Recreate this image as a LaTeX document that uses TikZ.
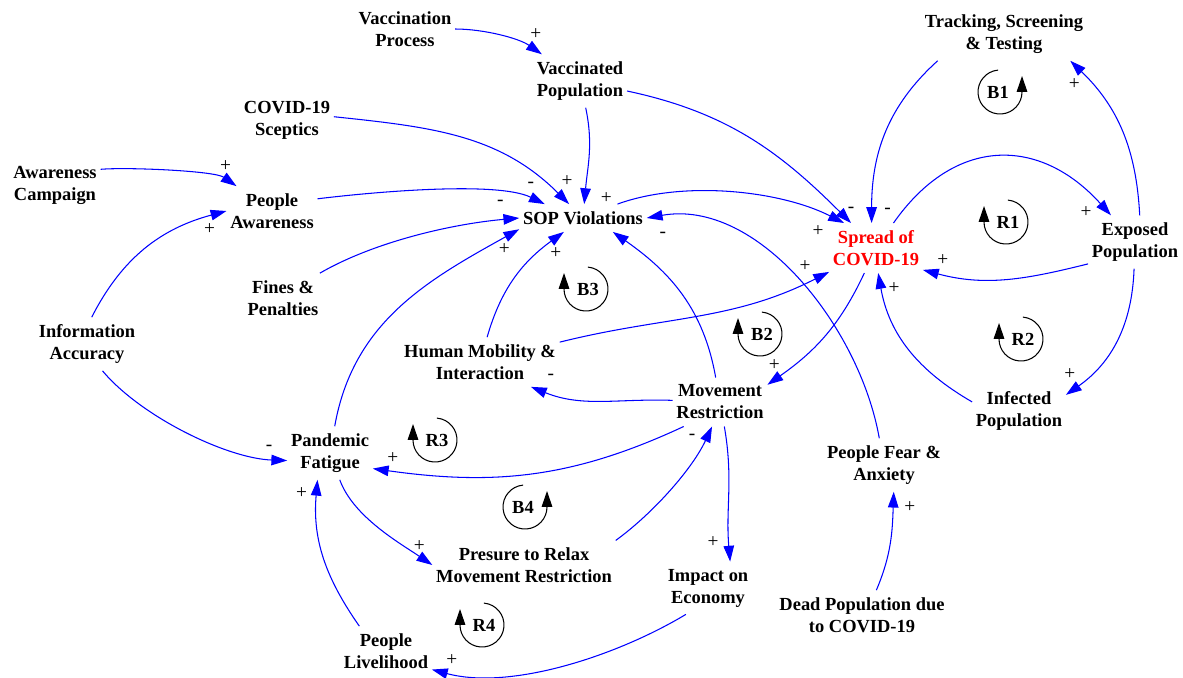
\documentclass[tikz,border=0pt]{standalone}
\usepackage{fontspec}
\setmainfont{Liberation Serif}
\usetikzlibrary{arrows.meta}

\begin{document}
\begin{tikzpicture}[x=0.02cm,y=0.02cm,
    var/.style={font=\bfseries\fontsize{10.5}{12.5}\selectfont,align=center,inner xsep=2pt,inner ysep=4pt},
    link/.style={blue,line width=0.6pt,-{Triangle[length=9pt,width=6pt]}},
    sign/.style={text=black,font=\fontsize{11}{12}\selectfont,inner sep=0pt,pos=1},
    loopmark/.style={black,line width=0.6pt,-{Triangle[length=9pt,width=6pt]}},
    looplab/.style={font=\bfseries\fontsize{10.5}{12}\selectfont,inner sep=0pt}]
      \useasboundingbox (0,0) rectangle (1183,-677);

      % variables
      \node[var] (vproc) at (405,-29) {Vaccination\\Process};
      \node[var] (vpop) at (580,-81) {Vaccinated\\Population};
      \node[var] (scep) at (287,-120) {COVID-19\\Sceptics};
      \node[var] (acamp) at (55,-185) {Awareness\\Campaign};
      \node[var] (paware) at (272,-211) {People\\Awareness};
      \node[var] (sop) at (583,-218) {SOP Violations};
      \node[var] (fines) at (283,-298) {Fines \&\\Penalties};
      \node[var] (info) at (87,-344) {Information\\Accuracy};
      \node[var] (mob) at (480,-362) {Human Mobility \&\\Interaction};
      \node[var] (move) at (720,-402) {Movement\\Restriction};
      \node[var,text=red] (spread) at (876,-248) {Spread of\\COVID-19};
      \node[var] (track) at (1004,-34) {Tracking, Screening\\\& Testing};
      \node[var] (expo) at (1135,-242) {Exposed\\Population};
      \node[var] (infect) at (1019,-411) {Infected\\Population};
      \node[var] (fear) at (884,-465) {People Fear \&\\Anxiety};
      \node[var] (dead) at (862,-615) {Dead Population due\\to COVID-19};
      \node[var] (fatig) at (330,-453) {Pandemic\\Fatigue};
      \node[var] (press) at (524,-565) {Presure to Relax\\Movement Restriction};
      \node[var] (econ) at (708,-588) {Impact on\\Economy};
      \node[var] (liveli) at (386,-651) {People\\Livelihood};

      % links into SOP Violations
      \draw[link] (vproc) to[out=0,in=145,looseness=.8] node[sign,shift={(-6,20)}] (s1) {+} (vpop);
      \draw[link] (vpop) to[out=-78,in=85] node[sign,shift={(22,6)}] (s2) {+} (sop);
      \draw[link] (scep.4) to[out=-6,in=135] node[sign,shift={(-2,23)}] (s3) {+} (sop.135);
      \draw[link] (paware.15) to[out=7,in=154,looseness=.6] node[sign,shift={(-14,19)}] (s4) {-} (sop.160);
      \draw[link] (fines.34) to[out=30,in=185,looseness=.8] node[sign,shift={(-19,15)}] (s5) {-} (sop.west);
      \draw[link] (fatig) to[out=80,in=209] node[sign,shift={(-15,-20)}] (s6) {+} (sop.190);
      \draw[link] (mob) to[out=74,in=216] node[sign,shift={(-8,-21)}] (s7) {+} (sop.216);
      \draw[link] (move) to[out=100,in=-35] (sop.-25);
      \draw[link] (fear) to[out=100,in=10,looseness=.9] node[sign,shift={(16,-17)}] (s8) {-} (sop.east);

      % awareness side
      \draw[link] (acamp.19) to[out=5,in=145,looseness=.5] node[sign,shift={(-11,20)}] (s9) {+} (paware.145);
      \draw[link] (info.80) to[out=63,in=195] node[sign,shift={(-17,-18)}] (s10) {+} (paware.180);
      \draw[link] (info.-60) to[out=-50,in=178,looseness=.75] node[sign,shift={(-18,13)}] (s11) {-} (fatig.190);

      % spread of COVID-19
      \draw[link] (sop.22) to[out=20,in=153,looseness=.8] node[sign,shift={(-26,-8)}] (s12) {+} (spread.142);
      \draw[link] (vpop) to[out=-12,in=135] node[sign,shift={(0,13)}] (s13) {-} (spread);
      \draw[link] (track.202) to[out=222,in=90] node[sign,shift={(16,12)}] (s14) {-} (spread.100);
      \draw[link] (spread) to[out=55,in=132,looseness=1.25] node[sign,shift={(-25,3)}] (s15) {+} (expo);
      \draw[link] (expo.205) to[out=194,in=-15] node[sign,shift={(20,10)}] (s16) {+} (spread.-25);
      \draw[link] (expo.80) to[out=93,in=-44] node[sign,shift={(4,-23)}] (s17) {+} (track.-22);
      \draw[link] (expo) to[out=-92,in=35] node[sign,shift={(4,21)}] (s18) {+} (infect.19);
      \draw[link] (infect.169) to[out=150,in=-80] node[sign,shift={(16,-15)}] (s19) {+} (spread.-85);
      \draw[link] (mob) to[out=14,in=-153] node[sign,shift={(-24,6)}] (s20) {+} (spread);
      \draw[link] (spread) to[out=-115,in=35] node[sign,shift={(7,20)}] (s21) {+} (move.20);

      % movement restriction
      \draw[link] (move) to[out=178,in=-22] node[sign,shift={(20,10)}] (s22) {-} (mob.-26);
      \draw[link] (move.214) to[out=205,in=-8] node[sign,shift={(20,11)}] (s23) {+} (fatig.-20);
      \draw[link] (move) to[out=-80,in=95] node[sign,shift={(-17,20)}] (s24) {+} (econ.50);
      \draw[link] (press.15) to[out=36,in=-115,looseness=.8] node[sign,shift={(-20,-10)}] (s25) {-} (move.-108);
      \draw[link] (fatig) to[out=-70,in=146,looseness=.8] node[sign,shift={(-13,19)}] (s26) {+} (press.180);
      \draw[link] (econ.230) to[out=211,in=-15,looseness=.8] node[sign,shift={(20,10)}] (s27) {+} (liveli.-22);
      \draw[link] (liveli.137) to[out=125,in=-95] node[sign,shift={(-16,-13)}] (s28) {+} (fatig.-115);
      \draw[link] (dead.60) to[out=67,in=-92] node[sign,shift={(16,-15)}] (s29) {+} (fear.-70);

      % loop markers
      \foreach \x/\y/\t in {1006/222/R1,1021/339/R2,586/289/B3,760/334/B2,435/440/R3,482/625/R4} {
        \draw[loopmark] (\x,-\y) ++(85:22) arc[start angle=85,end angle=-180,radius=22] -- ++(0,16);
        \node[looplab] (loop\t) at (\x+2,-\y) {\t};
      }
      \foreach \x/\y/\t in {1000/92/B1,525/507/B4} {
        \draw[loopmark] (\x,-\y) ++(95:22) arc[start angle=95,end angle=360,radius=22] -- ++(0,16);
        \node[looplab] (loop\t) at (\x-2,-\y) {\t};
      }
    \end{tikzpicture}
\end{document}
